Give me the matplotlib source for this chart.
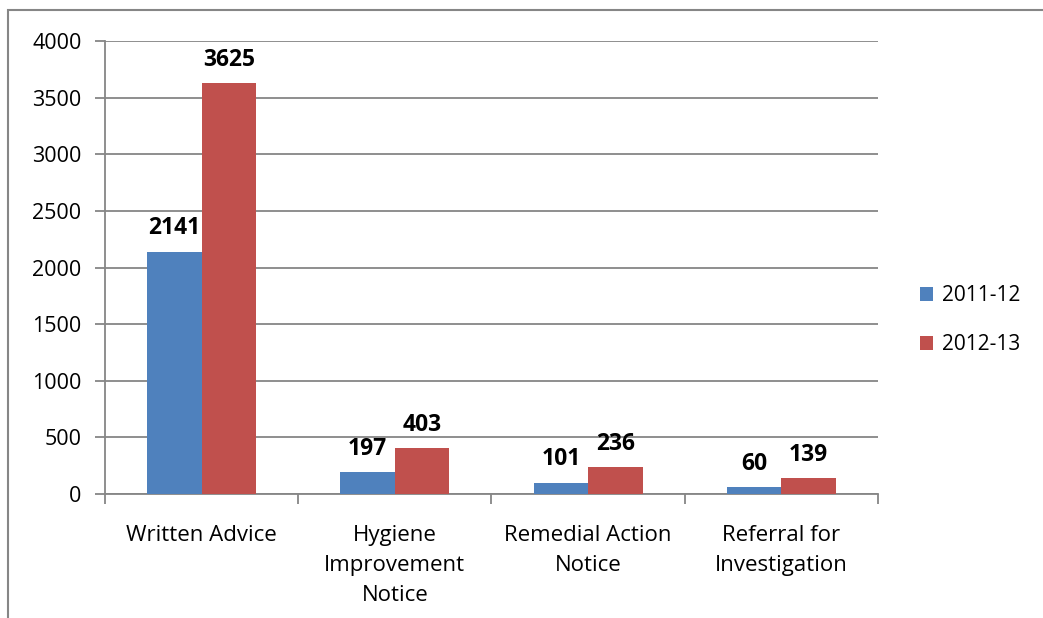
import matplotlib
matplotlib.use('Agg')
import matplotlib.pyplot as plt
from matplotlib.patches import Rectangle
import numpy as np

categories = ['Written Advice', 'Hygiene\nImprovement\nNotice', 'Remedial Action\nNotice', 'Referral for\nInvestigation']
series_names = ['2011-12', '2012-13']
values_2011 = [2141, 197, 101, 60]
values_2012 = [3625, 403, 236, 139]
y_ticks = [0, 500, 1000, 1500, 2000, 2500, 3000, 3500, 4000]

plt.rcParams['font.family'] = ['Open Sans', 'DejaVu Sans']
grey = '#868686'

fig = plt.figure(figsize=(10.43, 6.18), dpi=100)
ax = fig.add_axes([105 / 1043, 1 - 494 / 618, (878 - 105) / 1043, (494 - 41) / 618])

x = np.arange(len(categories))
w = 0.282
b1 = ax.bar(x - w / 2, values_2011, w, color='#4F81BD', label=series_names[0], zorder=3)
b2 = ax.bar(x + w / 2, values_2012, w, color='#C0504D', label=series_names[1], zorder=3)

for bars in (b1, b2):
    for r in bars:
        ax.annotate(f'{int(r.get_height())}', (r.get_x() + r.get_width() / 2, r.get_height()),
                    xytext=(0, 8), textcoords='offset points', ha='center', va='bottom',
                    fontsize=16.5, fontweight='bold', color='black')

ax.set_xlim(-0.5, len(categories) - 0.5)
ax.set_ylim(0, 4000)
ax.set_yticks(y_ticks)
ax.set_yticklabels([str(t) for t in y_ticks], fontsize=15.5)
ax.yaxis.grid(True, color=grey, linewidth=1.3, zorder=0)
ax.set_axisbelow(True)

# category ticks at boundaries, labels centred
ax.set_xticks(np.arange(len(categories) + 1) - 0.5)
ax.set_xticklabels([])
ax.set_xticks(x, minor=True)
ax.set_xticklabels(categories, minor=True, fontsize=16, linespacing=1.58)
ax.tick_params(axis='x', which='minor', length=0, pad=22)
ax.tick_params(axis='x', which='major', length=7, width=1.3, color=grey, direction='out')
ax.tick_params(axis='y', length=7, width=1.3, color=grey, pad=10)

for s in ('top', 'right'):
    ax.spines[s].set_visible(False)
for s in ('left', 'bottom'):
    ax.spines[s].set_color(grey)
    ax.spines[s].set_linewidth(1.3)

leg = fig.legend(handles=[b1, b2], labels=series_names, loc='center left',
                 bbox_to_anchor=(901 / 1043, 1 - 320 / 618), frameon=False,
                 fontsize=15, handlelength=0.65, handleheight=0.65, labelspacing=1.35,
                 handletextpad=0.4)

# chart area border (cropped on right and bottom)
fig.add_artist(Rectangle((8 / 1043, -0.1), 1.2, 1 - 10 / 618 + 0.1, transform=fig.transFigure,
                         fill=False, edgecolor=grey, linewidth=1.5))

fig.savefig('out.png', dpi=100)
